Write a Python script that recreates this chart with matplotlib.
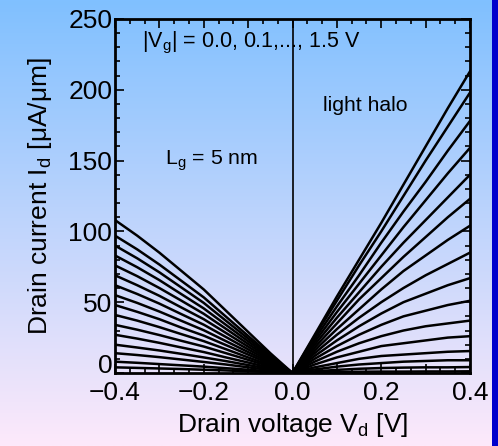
import numpy as np
from matplotlib import pyplot as plt
from matplotlib.ticker import MultipleLocator, AutoMinorLocator
from matplotlib.patches import Rectangle

plt.rcParams['font.family'] = ['Liberation Sans', 'DejaVu Sans']

# |Vd| grid shared by both branches
vd_abs = [0.0, 0.05, 0.1, 0.15, 0.2, 0.25, 0.3, 0.35, 0.4]

# gate voltages |Vg| = 0.0 ... 1.5 V
vg = [0.0, 0.1, 0.2, 0.3, 0.4, 0.5, 0.6, 0.7, 0.8, 0.9, 1.0, 1.1, 1.2, 1.3, 1.4, 1.5]

# drain current [uA/um] for Vd < 0, one row per Vg (low to high)
id_neg = [
    [0, 0.6, 1.2, 1.8, 2.3, 2.8, 3.2, 3.6, 4],
    [0, 1.2, 2.3, 3.4, 4.5, 5.4, 6.3, 7.2, 8],
    [0, 2.0, 4.0, 6.0, 7.8, 9.5, 11.2, 12.7, 14],
    [0, 2.8, 5.6, 8.4, 11, 13.5, 15.9, 18, 20],
    [0, 3.6, 7.4, 11, 14.8, 18, 21.3, 24.3, 27],
    [0, 4.5, 9.3, 14, 18.7, 22.7, 26.8, 30.6, 34],
    [0, 5.4, 11, 16.8, 22.5, 27.4, 32.4, 37, 41],
    [0, 6.3, 13, 19.7, 26.4, 32, 38, 43.2, 48],
    [0, 7.2, 14.8, 22.5, 30.2, 36.8, 43.4, 49.5, 55],
    [0, 8.1, 16.7, 25.4, 34.1, 41.5, 49, 55.8, 62],
    [0, 9.0, 18.6, 28.3, 38, 46.2, 54.5, 62, 69],
    [0, 9.9, 20.5, 31.2, 41.8, 51, 60, 68.4, 76],
    [0, 10.8, 22.4, 34, 45.6, 55.6, 65.6, 74.7, 83],
    [0, 11.7, 24.3, 36.9, 49.5, 60.3, 71.1, 81, 90],
    [0, 12.6, 26.2, 39.8, 53.4, 65, 76.6, 87.3, 97],
    [0, 14, 29, 44, 59, 72, 85, 97, 108],
]

# drain current [uA/um] for Vd > 0
id_pos = [
    [0, 0.4, 0.7, 0.9, 1.0, 1.0, 1.1, 1.1, 1.2],
    [0, 1.2, 2.2, 3.0, 3.5, 3.8, 4.0, 4.0, 4.2],
    [0, 2.5, 4.5, 6.0, 7.0, 8.0, 8.5, 9.0, 9.0],
    [0, 4, 7, 10, 12, 13, 14, 15, 15.5],
    [0, 6, 11, 15, 19, 21, 23, 25, 26],
    [0, 8, 15, 21, 26, 30, 33, 35, 37],
    [0, 10, 19, 27, 34, 40, 44, 48, 51],
    [0, 12, 23, 33, 42, 50, 56, 62, 67],
    [0, 14, 27, 39, 50, 60, 69, 77, 85],
    [0, 16, 31, 45, 59, 72, 83, 94, 104],
    [0, 18, 35, 52, 67, 82, 96, 110, 123],
    [0, 20, 39, 57, 75, 92, 108, 124, 140],
    [0, 22, 43, 63, 83, 103, 122, 141, 159],
    [0, 24, 47, 69, 92, 114, 135, 157, 178],
    [0, 26, 51, 76, 100, 125, 150, 174, 198],
    [0, 27, 54, 80, 106, 133, 160, 187, 213],
]

# x tick labels, only every other major tick is labelled
xticks = [-0.4, -0.3, -0.2, -0.1, 0.0, 0.1, 0.2, 0.3, 0.4]
xticklabels = ['\u22120.4', '', '\u22120.2', '', '0.0', '', '0.2', '', '0.4']
yticks = [0, 50, 100, 150, 200, 250]
yticklabels = ['', '50', '100', '150', '200', '250']

W, H = 498, 446
fig = plt.figure(figsize=(W/100, H/100), dpi=100)

# background gradient, light blue at top to pale pink at bottom
bg = fig.add_axes([0, 0, 1, 1], zorder=0)
top = np.array([128, 192, 255]) / 255
bot = np.array([253, 233, 250]) / 255
t = np.linspace(0, 1, 256)[:, None]
grad = (top * (1 - t) + bot * t)[:, None, :]
bg.imshow(grad, aspect='auto', extent=[0, 1, 0, 1])
bg.set_xlim(0, 1)
bg.set_ylim(0, 1)
bg.axis('off')
fig.patches.append(Rectangle((492/W, 0), 6/W, 1, transform=fig.transFigure,
                             facecolor='#0000cc', edgecolor='none', zorder=1))

ax = fig.add_axes([115/W, 1 - 373/H, 355/W, 354/H], zorder=2)
ax.patch.set_alpha(0)

vd_neg = [-v for v in vd_abs]
for row in id_neg:
    ax.plot(vd_neg, row, color='black', lw=1.8)
for row in id_pos:
    ax.plot(vd_abs, row, color='black', lw=1.8)
ax.axvline(0, color='black', lw=1.2)

ax.set_xlim(-0.4, 0.4)
ax.set_ylim(0, 250)
ax.set_xticks(xticks)
ax.set_xticklabels(xticklabels)
ax.set_yticks(yticks)
ax.set_yticklabels(yticklabels)
ax.xaxis.set_minor_locator(AutoMinorLocator(3))
ax.yaxis.set_minor_locator(MultipleLocator(10))
ax.tick_params(which='both', direction='in', top=True, right=True, width=1.2,
               labelsize=19)
ax.tick_params(axis='x', pad=6)
ax.tick_params(axis='y', pad=2)
ax.tick_params(which='major', length=6.5)
ax.tick_params(which='minor', length=3.5)
for s in ax.spines.values():
    s.set_linewidth(2)

# the "0" of the y axis sits a bit higher than the others, clear of "-0.4"
ax.annotate(str(yticks[0]), xy=(0, 0), xycoords='axes fraction',
            xytext=(-2, 5), textcoords='offset points',
            ha='right', va='center', fontsize=19)

ax.set_xlabel('Drain voltage V$_\\mathregular{d}$ [V]', fontsize=19, labelpad=4)
ax.set_ylabel('Drain current I$_\\mathregular{d}$ [\u03bcA/\u03bcm]', fontsize=19, labelpad=10)

ax.text(-0.339, 233, '|V$_\\mathregular{g}$| = 0.0, 0.1,..., 1.5 V', fontsize=15.5, va='center')
ax.text(0.069, 189, 'light halo', fontsize=15.2, va='center')
ax.text(-0.287, 150, 'L$_\\mathregular{g}$ = 5 nm', fontsize=15.3, va='center')

fig.savefig('out.png', dpi=100)
